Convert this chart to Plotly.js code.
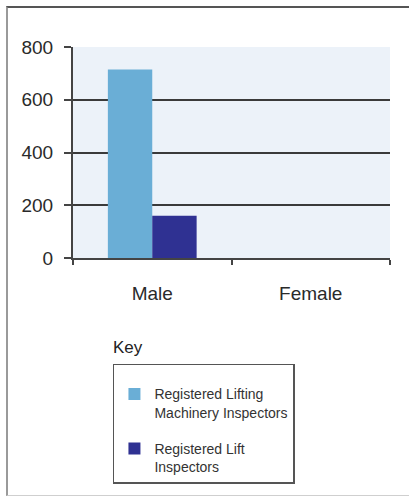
<!DOCTYPE html>
<html>
<head>
<meta charset="utf-8">
<script src="https://cdn.plot.ly/plotly-3.0.1.min.js"></script>
<style>
html,body{margin:0;padding:0;background:#fff;}
#wrap{position:relative;width:409px;height:498px;}
#chart{width:409px;height:498px;}
#frame{position:absolute;left:6px;top:6px;width:409px;height:490px;border-top:2px solid #555;border-left:2px solid #9a9a9a;border-bottom:1px solid #cfcfcf;pointer-events:none;box-sizing:border-box;}
</style>
</head>
<body>
<div id="wrap"><div id="chart"></div><div id="frame"></div></div>
<script>
var categories = ["Male", "Female"];
var liftingMachinery = [715, 0];
var liftInspectors = [160, 0];
var seriesNames = ["Registered Lifting<br>Machinery Inspectors", "Registered Lift<br>Inspectors"];
var yTicks = [0, 200, 400, 600, 800];

var traces = [
  {type: "bar", x: categories, y: liftingMachinery, name: seriesNames[0], legendgroup: "a",
   marker: {color: "#6aaed6", line: {width: 0}}},
  {type: "bar", x: categories, y: liftInspectors, name: seriesNames[1], legendgroup: "b",
   marker: {color: "#2f3192", line: {width: 0}}}
];

var layout = {
  width: 409, height: 498,
  margin: {l: 73, r: 19, t: 47, b: 240},
  paper_bgcolor: "#ffffff",
  plot_bgcolor: "#ecf2f9",
  barmode: "group",
  bargap: 0.44,
  bargroupgap: 0,
  font: {family: "Liberation Sans, Arial, sans-serif", color: "#333", size: 12},
  xaxis: {
    type: "category",
    tickson: "boundaries",
    ticks: "outside", ticklen: 5, tickwidth: 2, tickcolor: "#444",
    showline: true, linecolor: "#444", linewidth: 2,
    showgrid: false,
    tickfont: {size: 19, color: "#2a2a2a"},
    ticklabelstandoff: 17,
    fixedrange: true
  },
  yaxis: {
    range: [0, 800],
    tickvals: yTicks,
    ticks: "outside", ticklen: 7, tickwidth: 2, tickcolor: "#444",
    showline: true, linecolor: "#444", linewidth: 2,
    showgrid: true, gridcolor: "#3a3a3a", gridwidth: 2,
    zeroline: false,
    tickfont: {size: 19, color: "#2a2a2a"},
    ticklabelstandoff: 7,
    fixedrange: true
  },
  showlegend: true,
  legend: {
    x: 0.126, y: -0.502, xanchor: "left", yanchor: "top",
    bordercolor: "#555", borderwidth: 1.5, bgcolor: "#ffffff",
    font: {size: 14, color: "#333"},
    title: {text: " ", font: {size: 10}},
    tracegroupgap: 15,
    itemwidth: 30,
    valign: "top",
    traceorder: "grouped"
  },
  annotations: [
    {text: "Key", xref: "paper", yref: "paper", x: 0.12, y: -0.425, xanchor: "left", yanchor: "middle",
     showarrow: false, font: {size: 17, color: "#222"}}
  ]
};

Plotly.newPlot("chart", traces, layout, {displayModeBar: false, staticPlot: true});
</script>
</body>
</html>
